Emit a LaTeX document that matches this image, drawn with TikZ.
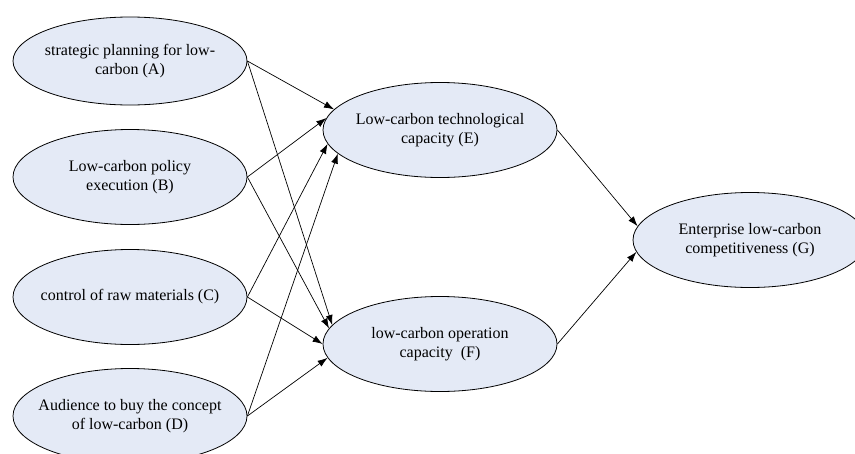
\documentclass[tikz,border=0pt]{standalone}
\usepackage{fontspec}
\setmainfont{Liberation Serif}
\usetikzlibrary{shapes.geometric,arrows.meta}
\definecolor{ellfill}{RGB}{228,234,246}
% centred multi-line label that does not widen the ellipse around it
\newcommand{\ctext}[1]{\makebox[0pt]{\begin{tabular}{@{}c@{}}#1\end{tabular}}}
\begin{document}
\begin{tikzpicture}[x=1pt,y=-1pt,
  factor/.style={ellipse, draw=black, line width=0.8pt, fill=ellfill,
    minimum width=234pt, minimum height=95pt, inner sep=0pt,
    font=\fontsize{16}{19}\selectfont},
  link/.style={line width=0.7pt, -{Latex[length=10pt,width=7pt]}}]
\clip (0,0) rectangle (855,453);

% antecedent factors
\node[factor, minimum height=88pt] (A) at (130,61) {\ctext{strategic planning for low-\\carbon (A)}};
\node[factor] (B) at (130,177) {\ctext{Low-carbon policy\\execution (B)}};
\node[factor] (C) at (130,297) {\ctext{control of raw materials (C)}};
\node[factor] (D) at (130,416) {\ctext{Audience to buy the concept\\of low-carbon (D)}};

% capacities
\node[factor] (E) at (440,130) {\ctext{Low-carbon technological\\capacity (E)}};
\node[factor] (F) at (440,344) {\ctext{low-carbon operation\\capacity\ \ (F)}};

% outcome
\node[factor] (G) at (750,240) {\ctext{Enterprise low-carbon\\competitiveness (G)}};

% paths into E
\draw[link] (A.east) -- (E.169);
\draw[link] (B.east) -- (E.174);
\draw[link] (C.east) -- (E.187);
\draw[link] (D.east) -- (E.193);

% paths into F
\draw[link] (A.east) -- (F.170);
\draw[link] (B.east) -- (F.172);
\draw[link] (C.east) -- (F.180);
\draw[link] (D.east) -- (F.187);

% paths into G
\draw[link] (E.east) -- (G.173);
\draw[link] (F.east) -- (G.186);
\end{tikzpicture}
\end{document}
